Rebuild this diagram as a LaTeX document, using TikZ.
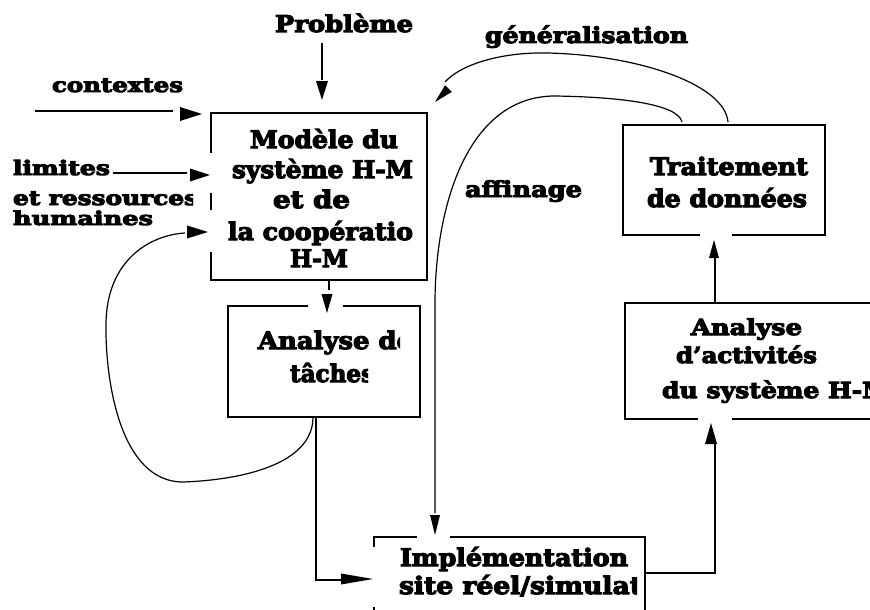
\documentclass[tikz,border=0pt]{standalone}
\usepackage{fontspec}
\setmainfont{DejaVu Serif}[BoldFeatures={FakeBold=4.5}]
\usetikzlibrary{shapes.geometric}
\newcommand\fw[2]{\resizebox{#1pt}{\height}{#2}}
\tikzset{
  edge/.style={line width=1.2pt, line cap=butt},
  lab/.style={font=\bfseries\fontsize{24}{28}\selectfont, inner sep=0pt, outer sep=0pt, anchor=base west},
  small/.style={font=\bfseries\fontsize{20}{24}\selectfont},
  mid/.style={font=\bfseries\fontsize{22}{26}\selectfont},
  box/.style={rectangle, draw=none, inner sep=0pt, outer sep=0pt, anchor=north west},
  tri/.style={isosceles triangle, isosceles triangle stretches, fill=black, draw=none, inner sep=0pt, outer sep=0pt, anchor=apex},
}
\begin{document}
\begin{tikzpicture}[x=1pt,y=-1pt]
\useasboundingbox (0,0) rectangle (870,610);
\clip (0,0) rectangle (870,610);
\fill[white] (0,0) rectangle (870,610);
% boxes
\node[box, minimum width=216pt, minimum height=167pt] (m) at (211,113) {};
\node[box, minimum width=192pt, minimum height=111pt] (t) at (228,306) {};
\node[box, minimum width=271pt, minimum height=110pt] (i) at (374,537) {};
\node[box, minimum width=202pt, minimum height=110pt] (d) at (623,125) {};
\node[box, minimum width=260pt, minimum height=116pt] (a) at (625,303) {};
% box outlines (with gaps where arrowheads sit)
\draw[edge] ([yshift=-40pt]m.north west) -- (m.north west) -- (m.north east) -- (m.south east) -- (m.south west) -- ([yshift=28pt]m.south west);
\draw[edge] ([yshift=-80pt]m.north west) -- ([yshift=-97pt]m.north west);
\draw[edge] ([xshift=80pt]t.north west) -- (t.north west) -- (t.south west) -- (t.south east) -- (t.north east) -- ([xshift=-77pt]t.north east);
\draw[edge] ([yshift=-10pt]i.north west) -- (i.north west) -- ([xshift=43pt]i.north west);
\draw[edge] ([xshift=76pt]i.north west) -- (i.north east) -- (i.south east);
\draw[edge] ([yshift=-70pt]i.north west) -- (i.south west);
\draw[edge] ([xshift=77pt]d.south west) -- (d.south west) -- (d.north west) -- (d.north east) -- (d.south east) -- ([xshift=-93pt]d.south east);
\draw[edge] ([xshift=73pt]a.south west) -- (a.south west) -- (a.north west) -- (a.north east) -- (a.south east) -- ([xshift=-153pt]a.south east);
% texts
\node[lab, font=\bfseries\fontsize{23}{27}\selectfont] (prob) at (275,32) {\fw{138}{Problème}};
\node[lab, small] (ctx) at (52,92) {\fw{131}{contextes}};
\node[lab, mid] (gen) at (485,43) {\fw{203}{généralisation}};
\node[lab, small] (lim) at (13,175) {\fw{97}{limites}};
\begin{scope}\clip (0,188) rectangle (193,209);
\node[lab, small] (res) at (13,205) {\fw{185}{et ressources}};
\end{scope}
\node[lab, small, font=\bfseries\fontsize{19}{23}\selectfont] (hum) at (13,225) {\fw{140}{humaines}};
\node[lab] (m1) at (250,148) {\fw{148}{Modèle du}};
\node[lab] (m2) at (232,178) {\fw{181}{système H-M}};
\node[lab] (m3) at (273,208) {\fw{77}{et de}};
\node[lab] (m4) at (228,240) {\fw{185}{la coopératio}};
\node[lab] (m5) at (290,267) {\fw{58}{H-M}};
\begin{scope}\clip (250,320) rectangle (400,360);
\node[lab] (t1) at (258,349) {\fw{155}{Analyse de}};
\end{scope}
\begin{scope}\clip (280,355) rectangle (368,392);
\node[lab] (t2) at (290,382) {\fw{84}{tâches}};
\end{scope}
\node[lab, mid] (aff) at (465,197) {\fw{117}{affinage}};
\node[lab] (d1) at (650,175) {\fw{158}{Traitement}};
\node[lab] (d2) at (647,207) {\fw{160}{de données}};
\node[lab, mid] (a1) at (691,335) {\fw{111}{Analyse}};
\node[lab, mid] (a2) at (676,363) {\fw{141}{d'activités}};
\node[lab, mid] (a3) at (662,398) {\fw{228}{du système H-M}};
\node[lab] (i1) at (400,566) {\fw{228}{Implémentation}};
\begin{scope}\clip (390,570) rectangle (637,610);
\node[lab] (i2) at (399,594) {\fw{243}{site réel/simulat}};
\end{scope}
% arrowheads
\node[tri, rotate=-90, minimum width=12pt, minimum height=19pt] (hP) at (322,100) {};
\node[tri, rotate=0, minimum width=14pt, minimum height=22pt] (hc) at (202,114) {};
\node[tri, rotate=0, minimum width=13pt, minimum height=20pt] (hl) at (210,175) {};
\node[tri, rotate=0, minimum width=13pt, minimum height=21pt] (hr) at (208,232) {};
\node[tri, rotate=-90, minimum width=11pt, minimum height=19pt] (ht) at (327,313) {};
\node[tri, rotate=0, minimum width=11pt, minimum height=32pt] (hi) at (373,579) {};
\node[tri, rotate=-90, minimum width=10pt, minimum height=20pt] (hj) at (435,535) {};
\node[tri, rotate=90, minimum width=10pt, minimum height=18pt] (hd) at (714,240) {};
\node[tri, rotate=90, minimum width=12pt, minimum height=21pt] (ha) at (711,423) {};
\node[tri, rotate=-135, minimum width=9.5pt, minimum height=19pt] (hg) at (435,102) {};
% connector end points
\coordinate (p0) at (322,43);  \coordinate (p1) at (322,80);
\coordinate (c0) at (35,111);  \coordinate (c1) at (173,111);
\coordinate (l0) at (113,173); \coordinate (l1) at (187,173);
\coordinate (r1) at (185,233);
\coordinate (s1) at (329,290);
\coordinate (e1) at (352,580);
\coordinate (j1) at (435,513);
\coordinate (k1) at (715,442);
\coordinate (q1) at (715,258);
\coordinate (g1) at (445,82);
% connectors
\draw[edge] (p0) -- (p1);
\draw[edge] (c0) -- (c1);
\draw[edge] (l0) -- (l1);
\draw[edge] ([xshift=10pt]m.south) -- (s1);
\draw[edge] ([xshift=-8pt]t.south) |- (e1);
\draw[edge] ([xshift=-11pt]t.south) .. controls (313,465) and (240,480) .. (183,482)
  .. controls (120,482) and (105,380) .. (106,323)
  .. controls (107,260) and (150,235) .. (r1);
\draw[edge] (645,573) -| (k1);
\draw[edge] (a.north west -| q1) -- (q1);
\draw[edge] (682,122) .. controls (678,104) and (620,97) .. (555,96)
  .. controls (470,96) and (436,200) .. (435,300) -- (j1);
\draw[edge] (728,122) .. controls (725,85) and (640,55) .. (547,53)
  .. controls (500,52) and (460,65) .. (g1);
\end{tikzpicture}
\end{document}
